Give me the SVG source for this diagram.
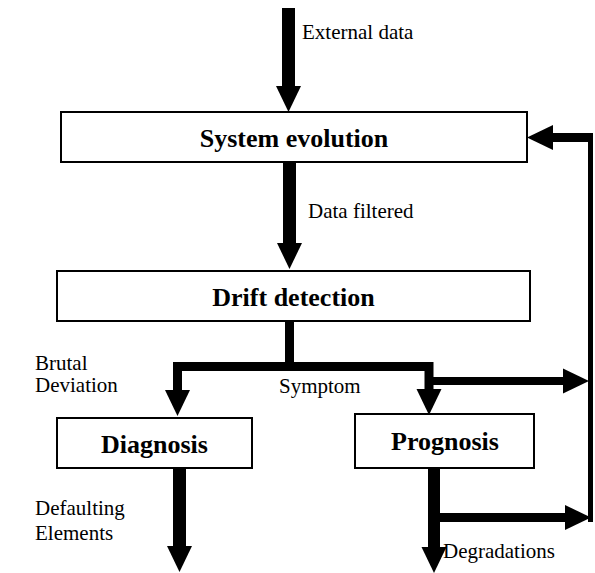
<svg xmlns="http://www.w3.org/2000/svg" width="595" height="573" viewBox="0 0 595 573">
<style>
.box{fill:#fff;stroke:#000;stroke-width:2}
.t{font-family:"Liberation Serif","Times New Roman",serif;font-size:21px;fill:#000}
.b{font-family:"Liberation Serif","Times New Roman",serif;font-size:26px;font-weight:bold;fill:#000;text-anchor:middle}
.c{fill:none;stroke:#000;stroke-linejoin:miter;stroke-linecap:butt}
</style>
<defs>
<marker id="ah" markerUnits="userSpaceOnUse" markerWidth="26" markerHeight="25" refX="0" refY="12.5" orient="auto" overflow="visible">
<path d="M0,0 L26,12.5 L0,25 Z" fill="#000"/>
</marker>
</defs>
<rect width="595" height="573" fill="#fff"/>
<g id="connectors">
<path class="c" stroke-width="13" d="M288.5,8 V86" marker-end="url(#ah)"/>
<path class="c" stroke-width="13" d="M289.5,162 V243" marker-end="url(#ah)"/>
<path class="c" stroke-width="9" d="M289.5,321 V366.5 H177.5 V390" marker-end="url(#ah)"/>
<path class="c" stroke-width="9" d="M289.5,366.5 H429 V389" marker-end="url(#ah)"/>
<path class="c" stroke-width="8" d="M428,381 H563" marker-end="url(#ah)"/>
<path class="c" stroke-width="5" d="M590.5,522 V133"/>
<path class="c" stroke-width="9" d="M593,137.5 H553" marker-end="url(#ah)"/>
<path class="c" stroke-width="12" d="M434,468 V547" marker-end="url(#ah)"/>
<path class="c" stroke-width="9" d="M440,517.5 H565" marker-end="url(#ah)"/>
<path class="c" stroke-width="13" d="M179.5,469 V546" marker-end="url(#ah)"/>
</g>
<g id="system-evolution">
<rect class="box" x="61" y="112" width="466" height="50"/>
<text class="b" x="294" y="147">System evolution</text>
</g>
<g id="drift-detection">
<rect class="box" x="57" y="271" width="473" height="50"/>
<text class="b" x="293.5" y="306">Drift detection</text>
</g>
<g id="diagnosis">
<rect class="box" x="57" y="418" width="195" height="50"/>
<text class="b" x="154.5" y="453">Diagnosis</text>
</g>
<g id="prognosis">
<rect class="box" x="355" y="414" width="179" height="54"/>
<text class="b" x="445" y="450">Prognosis</text>
</g>
<g id="labels">
<text class="t" x="302" y="39">External data</text>
<text class="t" x="308" y="218">Data filtered</text>
<text class="t" x="35" y="370">Brutal</text>
<text class="t" x="35" y="392">Deviation</text>
<text class="t" x="279" y="393">Symptom</text>
<text class="t" x="35" y="515">Defaulting</text>
<text class="t" x="35" y="540">Elements</text>
<text class="t" x="443" y="558">Degradations</text>
</g>
</svg>
